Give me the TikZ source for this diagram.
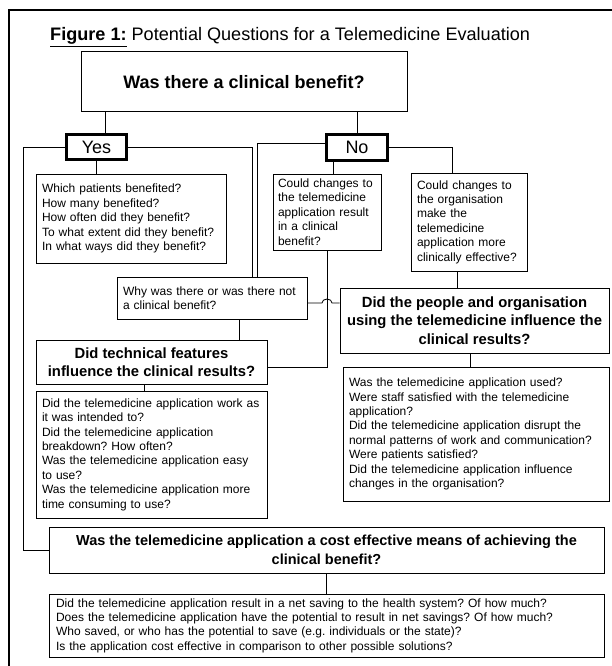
\documentclass[tikz,border=0pt]{standalone}
\usepackage{fontspec}
\setmainfont{Liberation Sans}
\frenchspacing
\begin{document}
\frenchspacing
\begin{tikzpicture}[x=1pt,y=-1pt,
  bx/.style={draw, line width=0.9pt, inner ysep=0pt, inner xsep=6pt, font=\fontsize{12}{14.4}\selectfont, align=left},
  hd/.style={draw, line width=1pt, inner sep=2pt, font=\bfseries\fontsize{14.8}{18.5}\selectfont, align=center},
  yn/.style={draw, line width=3.2pt, inner sep=0pt, font=\fontsize{18}{20}\selectfont},
  ln/.style={line width=0.8pt}]
\useasboundingbox (0,0) rectangle (612,666);
\draw[line width=1.2pt] (612,10) -- (9,10) -- (9,666);

\node[anchor=base west, inner sep=0pt, font=\fontsize{18.1}{21}\selectfont] (title) at (50,41)
  {\underline{\textbf{Figure 1:}} Potential Questions for a Telemedicine Evaluation};

\node[hd, font=\bfseries\fontsize{18}{21}\selectfont, minimum width=326pt, minimum height=60pt] (top) at (244,82) {Was there a clinical benefit?};

\node[yn, minimum width=60pt, minimum height=25pt] (yes) at (96.5,147) {Yes};
\node[yn, minimum width=61pt, minimum height=26pt] (no) at (357,147.5) {No};

\node[bx, text width=178pt, minimum height=89pt] (which) at (131,218.5)
  {Which patients benefited?\\How many benefited?\\How often did they benefit?\\To what extent did they benefit?\\In what ways did they benefit?};

\node[bx, inner xsep=5pt, text width=98pt, minimum height=76pt] (ctele) at (327,212)
  {Could changes to\\the telemedicine\\application result\\in a clinical\\benefit?};

\node[bx, text width=104pt, minimum height=98pt] (corg) at (469,222)
  {Could changes to\\the organisation\\make the\\telemedicine\\application more\\clinically effective?};

\node[bx, text width=178pt, minimum height=42pt] (why) at (212,298)
  {Why was there or was there not\\a clinical benefit?};

\node[hd, minimum width=269pt, minimum height=65pt] (people) at (474.5,320.5)
  {Did the people and organisation\\using the telemedicine influence the\\clinical results?};

\node[hd, minimum width=231pt, minimum height=44pt] (tech) at (151.5,362)
  {Did technical features\\influence the clinical results?};

\node[bx, text width=219pt, minimum height=127pt] (techd) at (151.5,454.5)
  {Did the telemedicine application work as\\it was intended to?\\Did the telemedicine application\\breakdown? How often?\\Was the telemedicine application easy\\to use?\\Was the telemedicine application more\\time consuming to use?};

\node[bx, text width=254pt, minimum height=134pt] (peopled) at (476,434)
  {Was the telemedicine application used?\\Were staff satisfied with the telemedicine\\application?\\Did the telemedicine application disrupt the\\normal patterns of work and communication?\\Were patients satisfied?\\Did the telemedicine application influence\\changes in the organisation?};

\node[hd, font=\bfseries\fontsize{14.5}{18.5}\selectfont, minimum width=555pt, minimum height=46pt] (cost) at (326.5,550)
  {Was the telemedicine application a cost effective means of achieving the\\clinical benefit?};

\node[bx, inner xsep=7pt, text width=541pt, minimum height=63pt] (costd) at (326.5,625.5)
  {Did the telemedicine application result in a net saving to the health system? Of how much?\\Does the telemedicine application have the potential to result in net savings? Of how much?\\Who saved, or who has the potential to save (e.g. individuals or the state)?\\Is the application cost effective in comparison to other possible solutions?};

% connectors
\coordinate (ay) at ([xshift=8.5pt]yes.north);
\draw[ln] (ay) -- (ay |- top.south);
\draw[ln] (no.north) -- (no.north |- top.south);
\coordinate (L) at (23,0);
\draw[ln] (yes.west) -| (L |- cost.west) -- (cost.west);
\draw[ln] (yes.east) -| ([xshift=40pt]why.north);
\draw[ln] (yes.south) -- (yes.south |- which.north);
\draw[ln] ([yshift=4pt]no.west) -| ([xshift=45pt]why.north);
\coordinate (an) at ([xshift=-24pt]no.south);
\draw[ln] (an) -- (an |- ctele.north);
\draw[ln] (no.east) -| ([xshift=-17pt]corg.north);
\draw[ln] (ctele.south) |- ([yshift=-5pt]tech.east);
\coordinate (W) at ([yshift=-5pt]why.east);
\coordinate (J) at (ctele.south |- W);
\draw[ln] (W) -- ([xshift=-5pt]J) arc[start angle=180, end angle=0, x radius=5pt, y radius=4pt] -- (J -| people.west);
\coordinate (ao) at ([xshift=-12pt]corg.south);
\draw[ln] (ao) -- (ao |- people.north);
\coordinate (aw) at ([xshift=27pt]why.south);
\draw[ln] (aw) -- (aw |- tech.north);
\coordinate (at) at ([xshift=-7.5pt]tech.south);
\draw[ln] (at) -- (at |- techd.north);
\coordinate (ap) at ([xshift=-4.5pt]people.south);
\draw[ln] (ap) -- (ap |- peopled.north);
\draw[ln] (cost.south) -- (cost.south |- costd.north);
\end{tikzpicture}
\end{document}
